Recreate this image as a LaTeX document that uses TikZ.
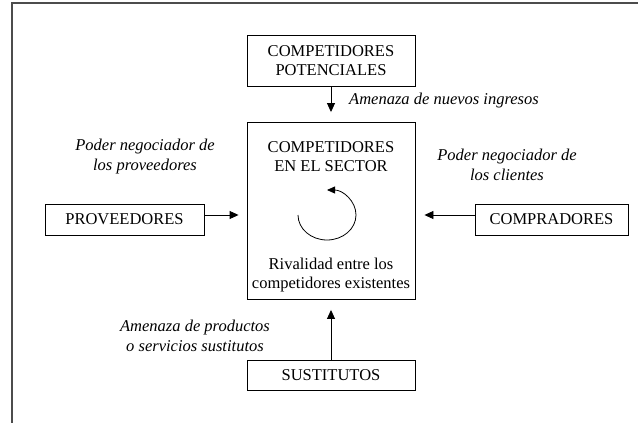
\documentclass[tikz,border=0pt]{standalone}
\usepackage{fontspec}
\setmainfont{Liberation Serif}
\usetikzlibrary{arrows.meta}
\begin{document}
\begin{tikzpicture}[x=1pt,y=-1pt,
  box/.style={draw=black, line width=0.9pt, inner sep=0pt, align=center, font=\fontsize{16.5}{19}\selectfont},
  txt/.style={align=center, inner sep=0pt, font=\fontsize{16.5}{19}\selectfont},
  lbl/.style={align=center, inner sep=0pt, font=\fontsize{16.5}{20}\selectfont\itshape},
  conn/.style={draw=black, line width=0.9pt, -{Triangle[length=9pt,width=8pt]}},
  frameline/.style={draw=black!70, line width=1.6pt}]
\useasboundingbox (0,0) rectangle (638,423);
\fill[white] (0,0) rectangle (638,423);
% frame
\coordinate (ftl) at (12,3);
\coordinate (ftr) at (640,3);
\coordinate (fbl) at (12,425);
\draw[frameline] (ftr) -- (ftl) -- (fbl);
% boxes
\node[box, minimum width=168pt, minimum height=51pt] (pot) at (331,60.5) {COMPETIDORES\\POTENCIALES};
\node[draw=black, line width=0.9pt, minimum width=168pt, minimum height=177pt, inner sep=0pt] (cen) at (331,211) {};
\node[txt] (centitle) at (331,157) {COMPETIDORES\\EN EL SECTOR};
\node[txt] (cenriv) at (331,275.5) {Rivalidad entre los\\competidores existentes};
\node[box, minimum width=159pt, minimum height=31pt] (prov) at (124.5,219.5) {PROVEEDORES};
\node[box, minimum width=153pt, minimum height=31pt] (comp) at (551.5,219.5) {COMPRADORES};
\node[box, minimum width=168pt, minimum height=30pt] (sust) at (331,375) {SUSTITUTOS};
% rivalry loop
\coordinate (loopstart) at (298,215);
\draw[line width=0.8pt, -{Triangle[length=8pt,width=7pt]}] (loopstart) arc[start angle=180, end angle=450, x radius=29pt, y radius=25pt];
% connectors
\draw[conn, shorten >=10pt] (pot.south) -- (cen.north);
\draw[conn, shorten >=8pt] ([yshift=4.5pt]prov.east) -- ([yshift=4.5pt]prov.east -| cen.west);
\draw[conn, shorten >=9pt] ([yshift=4.5pt]comp.west) -- ([yshift=4.5pt]comp.west -| cen.east);
\draw[conn, shorten >=10pt] (sust.north) -- (cen.south);
% labels
\node[lbl, anchor=west] (lblnew) at (349,101) {Amenaza de nuevos ingresos};
\node[lbl] (lblprov) at (145,157) {Poder negociador de\\los proveedores};
\node[lbl] (lblcli) at (507,165) {Poder negociador de\\los clientes};
\node[lbl] (lblsust) at (195,335.5) {Amenaza de productos\\o servicios sustitutos};
\end{tikzpicture}
\end{document}
